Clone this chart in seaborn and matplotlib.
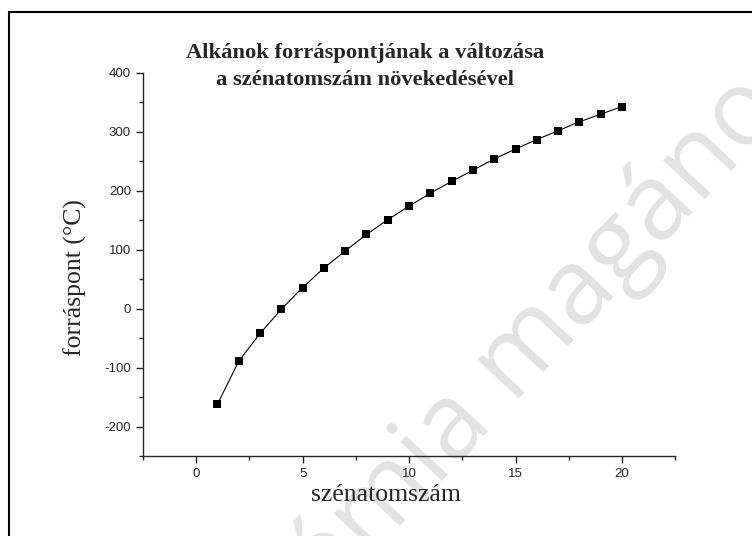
import numpy as np
import pandas as pd
from matplotlib import pyplot as plt
from matplotlib.patches import Rectangle
from matplotlib.ticker import MultipleLocator
import seaborn as sns

# szénatomszám és forráspont (°C)
szenatom = [1, 2, 3, 4, 5, 6, 7, 8, 9, 10, 11, 12, 13, 14, 15, 16, 17, 18, 19, 20]
forraspont = [-162, -89, -42, -1, 36, 69, 98, 126, 151, 174, 196, 216, 235, 254, 271, 287, 302, 317, 330, 343]

cim = "Alkánok forráspontjának a változása\na szénatomszám növekedésével"
x_felirat = "szénatomszám"
y_felirat = "forráspont (°C)"
vizjel = "émia magáno"

df = pd.DataFrame({"n": szenatom, "bp": forraspont})

sns.set_style("ticks")
plt.rcParams["font.family"] = ["Liberation Sans", "DejaVu Sans"]
plt.rcParams["axes.unicode_minus"] = False

fig = plt.figure(figsize = (7.52, 5.36), dpi = 100)
ax = fig.add_axes([0.190, 0.149, 0.708, 0.715])
ax.patch.set_alpha(0)

# vízjel a háttérben (a képen is le van vágva)
fig.text(0.715, 0.37, vizjel, rotation = 47, fontsize = 76, color = "#e3e3e3",
         family = ["Open Sans", "DejaVu Sans"], ha = "center", va = "center", zorder = -1)

sns.lineplot(data = df, x = "n", y = "bp", color = "black", linewidth = 0.8,
             marker = "s", markersize = 6, markeredgewidth = 0, ax = ax)

ax.set_xlim(-2.5, 22.5)
ax.set_ylim(-250, 400)
ax.xaxis.set_major_locator(MultipleLocator(5))
ax.xaxis.set_minor_locator(MultipleLocator(2.5))
ax.yaxis.set_major_locator(MultipleLocator(100))
ax.yaxis.set_minor_locator(MultipleLocator(50))
ax.tick_params(which = "major", length = 5, width = 1, labelsize = 9.5, direction = "out")
ax.tick_params(which = "minor", length = 3, width = 1, direction = "out")
sns.despine(ax = ax)
for s in ["left", "bottom"]:
    ax.spines[s].set_linewidth(1)

ax.set_xlabel(x_felirat, family = "Liberation Serif", fontsize = 18.5)
ax.set_ylabel(y_felirat, family = "Liberation Serif", fontsize = 18.5)
ax.xaxis.set_label_coords(0.457, -0.072)
ax.yaxis.set_label_coords(-0.105, 0.467)

fig.text(0.485, 0.876, cim, family = "Liberation Serif", fontweight = "bold", fontsize = 16.2,
         ha = "center", va = "center", linespacing = 1.45)

# keret
fig.patches.append(Rectangle((0.012, -0.02), 1.0, 0.998, transform = fig.transFigure,
                             fill = False, edgecolor = "black", linewidth = 1.5))

plt.savefig("out.png", dpi = 100)
